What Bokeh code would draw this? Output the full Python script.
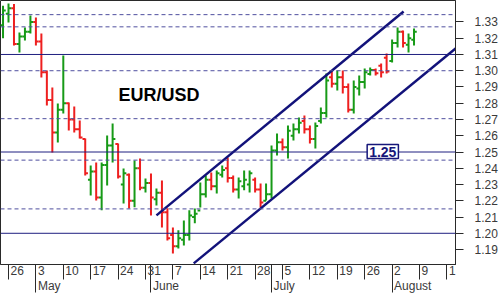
import numpy as np
from bokeh.plotting import figure
from bokeh.models import (ColumnDataSource, Range1d, FixedTicker, LinearAxis, Span, Label,
                          CustomJSTickFormatter, NumeralTickFormatter)
from bokeh.embed import file_html
from bokeh.resources import INLINE

# ---------------- data (EUR/USD daily OHLC) ----------------
dates = ["2010-04-23", "2010-04-26", "2010-04-27", "2010-04-28", "2010-04-29", "2010-04-30",
         "2010-05-03", "2010-05-04", "2010-05-05", "2010-05-06", "2010-05-07",
         "2010-05-10", "2010-05-11", "2010-05-12", "2010-05-13", "2010-05-14",
         "2010-05-17", "2010-05-18", "2010-05-19", "2010-05-20", "2010-05-21",
         "2010-05-24", "2010-05-25", "2010-05-26", "2010-05-27", "2010-05-28",
         "2010-05-31", "2010-06-01", "2010-06-02", "2010-06-03", "2010-06-04",
         "2010-06-07", "2010-06-08", "2010-06-09", "2010-06-10", "2010-06-11",
         "2010-06-14", "2010-06-15", "2010-06-16", "2010-06-17", "2010-06-18",
         "2010-06-21", "2010-06-22", "2010-06-23", "2010-06-24", "2010-06-25",
         "2010-06-28", "2010-06-29", "2010-06-30", "2010-07-01", "2010-07-02",
         "2010-07-05", "2010-07-06", "2010-07-07", "2010-07-08", "2010-07-09",
         "2010-07-12", "2010-07-13", "2010-07-14", "2010-07-15", "2010-07-16",
         "2010-07-19", "2010-07-20", "2010-07-21", "2010-07-22", "2010-07-23",
         "2010-07-26", "2010-07-27", "2010-07-28", "2010-07-29", "2010-07-30",
         "2010-08-02", "2010-08-03", "2010-08-04", "2010-08-05", "2010-08-06"]
opens = [1.3280, 1.3350, 1.3385, 1.3165, 1.3210, 1.3240,
         1.3300, 1.3180, 1.2990, 1.2820, 1.2620,
         1.2760, 1.2800, 1.2700, 1.2640, 1.2580,
         1.2330, 1.2380, 1.2220, 1.2420, 1.2540,
         1.2550, 1.2300, 1.2360, 1.2200, 1.2400,
         1.2280, 1.2310, 1.2210, 1.2250, 1.2130,
         1.1990, 1.1920, 1.1960, 1.1990, 1.2100,
         1.2140, 1.2240, 1.2330, 1.2290, 1.2360,
         1.2400, 1.2340, 1.2270, 1.2290, 1.2300,
         1.2330, 1.2270, 1.2200, 1.2240, 1.2510,
         1.2560, 1.2530, 1.2600, 1.2640, 1.2690,
         1.2640, 1.2580, 1.2690, 1.2740, 1.2960,
         1.2920, 1.2960, 1.2900, 1.2760, 1.2890,
         1.2930, 1.2980, 1.3005, 1.3030, 1.3080,
         1.3060, 1.3170, 1.3240, 1.3160, 1.3190]
highs = [1.3400, 1.3414, 1.3410, 1.3235, 1.3266, 1.3340,
         1.3327, 1.3229, 1.3002, 1.2897, 1.2799,
         1.3094, 1.2805, 1.2780, 1.2694, 1.2583,
         1.2417, 1.2436, 1.2436, 1.2602, 1.2676,
         1.2553, 1.2399, 1.2368, 1.2448, 1.2460,
         1.2337, 1.2368, 1.2276, 1.2325, 1.2154,
         1.2036, 1.2018, 1.2079, 1.2141, 1.2153,
         1.2313, 1.2356, 1.2374, 1.2387, 1.2417,
         1.2466, 1.2356, 1.2343, 1.2387, 1.2387,
         1.2343, 1.2307, 1.2307, 1.2540, 1.2614,
         1.2583, 1.2663, 1.2676, 1.2712, 1.2725,
         1.2663, 1.2682, 1.2774, 1.2983, 1.3002,
         1.3002, 1.3002, 1.2922, 1.2940, 1.2971,
         1.3014, 1.3020, 1.3014, 1.3045, 1.3106,
         1.3192, 1.3266, 1.3248, 1.3229, 1.3260]
lows = [1.3200, 1.3297, 1.3155, 1.3112, 1.3186, 1.3229,
        1.3155, 1.2958, 1.2786, 1.2497, 1.2559,
        1.2737, 1.2633, 1.2620, 1.2583, 1.2356,
        1.2233, 1.2202, 1.2141, 1.2294, 1.2436,
        1.2337, 1.2183, 1.2153, 1.2160, 1.2264,
        1.2251, 1.2110, 1.2171, 1.2036, 1.1956,
        1.1876, 1.1907, 1.1925, 1.1956, 1.2061,
        1.2159, 1.2220, 1.2264, 1.2245, 1.2343,
        1.2313, 1.2251, 1.2214, 1.2264, 1.2251,
        1.2251, 1.2159, 1.2202, 1.2214, 1.2479,
        1.2510, 1.2460, 1.2571, 1.2614, 1.2614,
        1.2553, 1.2522, 1.2676, 1.2712, 1.2897,
        1.2879, 1.2860, 1.2743, 1.2737, 1.2848,
        1.2891, 1.2971, 1.2971, 1.2958, 1.2983,
        1.3050, 1.3143, 1.3143, 1.3112, 1.3155]
closes = [1.3370, 1.3385, 1.3165, 1.3210, 1.3240, 1.3300,
          1.3180, 1.2990, 1.2820, 1.2620, 1.2760,
          1.2800, 1.2700, 1.2640, 1.2590, 1.2370,
          1.2380, 1.2220, 1.2420, 1.2540, 1.2580,
          1.2350, 1.2370, 1.2200, 1.2400, 1.2280,
          1.2310, 1.2220, 1.2250, 1.2130, 1.1970,
          1.1920, 1.1970, 1.1990, 1.2110, 1.2120,
          1.2240, 1.2330, 1.2290, 1.2370, 1.2390,
          1.2340, 1.2270, 1.2320, 1.2330, 1.2370,
          1.2270, 1.2190, 1.2240, 1.2510, 1.2560,
          1.2530, 1.2630, 1.2640, 1.2680, 1.2640,
          1.2580, 1.2660, 1.2740, 1.2940, 1.2920,
          1.2960, 1.2900, 1.2760, 1.2900, 1.2930,
          1.2990, 1.3005, 1.2985, 1.2990, 1.2995,
          1.3170, 1.3240, 1.3170, 1.3200, 1.3240]

week_dates = ["2010-04-26", "2010-05-03", "2010-05-10", "2010-05-17", "2010-05-24",
              "2010-05-31", "2010-06-07", "2010-06-14", "2010-06-21", "2010-06-28",
              "2010-07-05", "2010-07-12", "2010-07-19", "2010-07-26", "2010-08-02",
              "2010-08-09", "2010-08-16"]
week_labels = ["26", "3", "10", "17", "24", "31", "7", "14", "21", "28",
               "5", "12", "19", "26", "2", "9", "1"]
month_dates = ["2010-05-03", "2010-06-01", "2010-07-01", "2010-08-02"]
month_labels = ["May", "June", "July", "August"]

price_ticks = [1.19, 1.20, 1.21, 1.22, 1.23, 1.24, 1.25, 1.26, 1.27,
               1.28, 1.29, 1.30, 1.31, 1.32, 1.33]
solid_levels = [1.31, 1.25, 1.20]
dashed_levels = [1.3345, 1.327, 1.300, 1.2705, 1.245, 1.215]

# trend channel anchor points (trading-day index from 2010-04-26, price)
upper_channel_t = [27.0, 72.1]
upper_channel_p = [1.2110, 1.3364]
lower_channel_t = [33.8, 82.0]
lower_channel_p = [1.1815, 1.3148]

title_text = "EUR/USD"
level_text = "1.25"

# ---------------- layout ----------------
BASE = np.datetime64("2010-04-26")
def tday(ds):
    return np.busday_count(BASE, np.array(ds, dtype="datetime64[D]")).astype(float)

X0, X1 = -1.46, 81.57
FRAME_W, FRAME_H = 455, 264
PX = FRAME_W / (X1 - X0)

FONT = "Liberation Sans"
CW = {"M": 10.0, "a": 6.67, "y": 6.0, "J": 6.0, "u": 6.67, "n": 6.67, "e": 6.67,
      "l": 2.67, "A": 8.0, "g": 6.67, "s": 6.0, "t": 3.33}
def text_w(s):
    return sum(CW.get(c, 6.67) for c in s)

t = tday(dates)
o = np.array(opens); h = np.array(highs); l = np.array(lows); c = np.array(closes)
col = np.where(c >= o, "#179a17", "#ee1f1f")
TK = 0.5
src = ColumnDataSource(dict(t=t, o=o, h=h, l=l, c=c, col=col, tl=t - TK, tr=t + TK))

p = figure(frame_width=FRAME_W, frame_height=FRAME_H, output_backend="svg",
           toolbar_location=None, x_axis_location=None, y_axis_location="right",
           x_range=Range1d(X0, X1), y_range=Range1d(1.1808, 1.3432),
           min_border=0, min_border_left=0, min_border_right=0,
           min_border_top=0, min_border_bottom=0,
           background_fill_color="white", border_fill_color="white")
p.grid.visible = False
p.outline_line_color = "#2a2a2a"
p.outline_line_width = 1

for lv in dashed_levels:
    p.add_layout(Span(location=lv, dimension="width", line_color="#4f4f9f",
                      line_width=1, line_dash="4 3"))
for lv in solid_levels:
    p.add_layout(Span(location=lv, dimension="width", line_color="#1f1f80", line_width=1))

p.segment(x0="t", y0="l", x1="t", y1="h", color="col", line_width=2, source=src)
p.segment(x0="tl", y0="o", x1="t", y1="o", color="col", line_width=2, source=src)
p.segment(x0="t", y0="c", x1="tr", y1="c", color="col", line_width=2, source=src)

p.line(upper_channel_t, upper_channel_p, line_color="#12127a", line_width=2.5)
p.line(lower_channel_t, lower_channel_p, line_color="#12127a", line_width=2.5)

p.add_layout(Label(x=20.07, y=1.2848, text=title_text, text_font=FONT, text_font_size="18px",
                   text_font_style="bold", text_color="black", text_baseline="middle",
                   text_align="left"))
p.add_layout(Label(x=68.3, y=1.2503, text=level_text, text_font=FONT, text_font_size="14px",
                   text_font_style="bold", text_color="#16167a", text_baseline="middle",
                   text_align="center", background_fill_color="white",
                   border_line_color="#16167a", border_line_width=1.5, padding=2))

# right price axis
ya = p.yaxis[0]
ya.ticker = FixedTicker(ticks=price_ticks)
ya.formatter = NumeralTickFormatter(format="0.00")
ya.major_tick_out = 8
ya.major_tick_in = 0
ya.minor_tick_out = 0
ya.minor_tick_in = 0
ya.major_label_standoff = 11
ya.axis_line_color = "#2a2a2a"
ya.major_tick_line_color = "#2a2a2a"
ya.major_label_text_font = FONT
ya.major_label_text_font_size = "12px"
ya.major_label_text_color = "#3a3a3a"

# bottom: week row and month row
wk_t = tday(week_dates)
wk_centers = [float(tt + (2 + text_w(s) / 2) / PX) for tt, s in zip(wk_t, week_labels)]
mo_t = tday(month_dates)
mo_centers = [float(tt + (2 + text_w(s) / 2) / PX) for tt, s in zip(mo_t, month_labels)]

def lookup(pos, labs):
    return CustomJSTickFormatter(args=dict(pos=pos, labs=labs), code="""
        let b = 0;
        for (let j = 0; j < pos.length; j++) {
            if (Math.abs(pos[j] - tick) < Math.abs(pos[b] - tick)) b = j;
        }
        return labs[b];
    """)

ax1 = LinearAxis(ticker=FixedTicker(ticks=wk_centers,
                                    minor_ticks=sorted(set(list(wk_t) + list(mo_t)))),
                 formatter=lookup(wk_centers, week_labels))
ax2 = LinearAxis(ticker=FixedTicker(ticks=mo_centers, minor_ticks=list(mo_t)),
                 formatter=lookup(mo_centers, month_labels))
for ax in (ax1, ax2):
    ax.major_tick_out = 0
    ax.major_tick_in = 0
    ax.minor_tick_in = 0
    ax.minor_tick_out = 15
    ax.minor_tick_line_color = "#2a2a2a"
    ax.major_label_text_font = FONT
    ax.major_label_text_font_size = "12px"
    ax.major_label_text_color = "#3a3a3a"
    ax.major_label_standoff = -14
ax1.axis_line_color = "#2a2a2a"
ax2.axis_line_color = None
p.add_layout(ax1, "below")
p.add_layout(ax2, "below")

open("out.html", "w").write(file_html(p, INLINE))
